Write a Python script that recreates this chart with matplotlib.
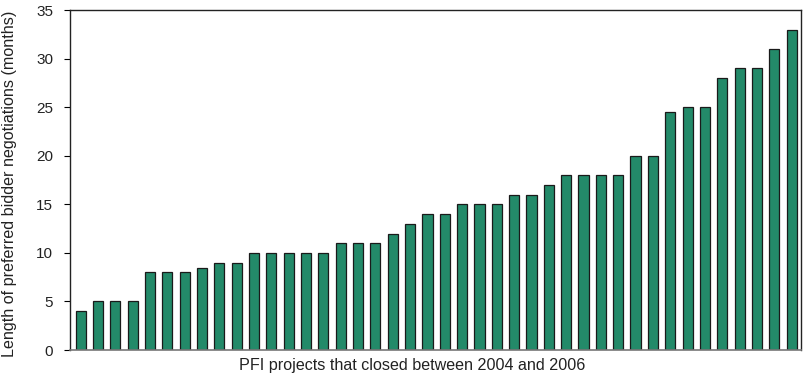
import numpy as np
import matplotlib
matplotlib.use("Agg")
import matplotlib.pyplot as plt

plt.rcParams['font.family'] = ['Liberation Sans', 'DejaVu Sans']

# months of preferred bidder negotiations, one bar per project (sorted)
months = [4, 5, 5, 5, 8, 8, 8, 8.5, 9, 9,
          10, 10, 10, 10, 10, 11, 11, 11, 12, 13,
          14, 14, 15, 15, 15, 16, 16, 17, 18, 18,
          18, 18, 20, 20, 24.5, 25, 25, 28, 29, 29,
          31, 33]
yticks = [0, 5, 10, 15, 20, 25, 30, 35]

fig = plt.figure(figsize=(8.1, 3.74), dpi=100)
ax = fig.add_axes([0.0864, 0.064, 0.9026, 0.909])

x = np.arange(len(months))
ax.bar(x, months, width=0.58, color='#238a69', edgecolor='#1a1a1a', linewidth=0.9)

ax.set_xlim(-0.62, len(months) - 0.45)
ax.set_ylim(0, 35)
ax.set_yticks(yticks)
ax.set_xticks([])
ax.tick_params(axis='y', direction='out', length=4, width=0.8, labelsize=11, pad=8,
               labelcolor='#222222')

for s in ['left', 'top', 'right']:
    ax.spines[s].set_color('#222222')
    ax.spines[s].set_linewidth(1.0)
ax.spines['bottom'].set_color('#777777')
ax.spines['bottom'].set_linewidth(1.2)

ax.set_ylabel('Length of preferred bidder negotiations (months)', fontsize=11.6, color='#222222')
ax.yaxis.set_label_coords(-0.073, 0.49)
ax.set_xlabel('PFI projects that closed between 2004 and 2006', fontsize=11.6, color='#222222')
ax.xaxis.set_label_coords(0.468, -0.024)

fig.savefig('out.png', dpi=100)
